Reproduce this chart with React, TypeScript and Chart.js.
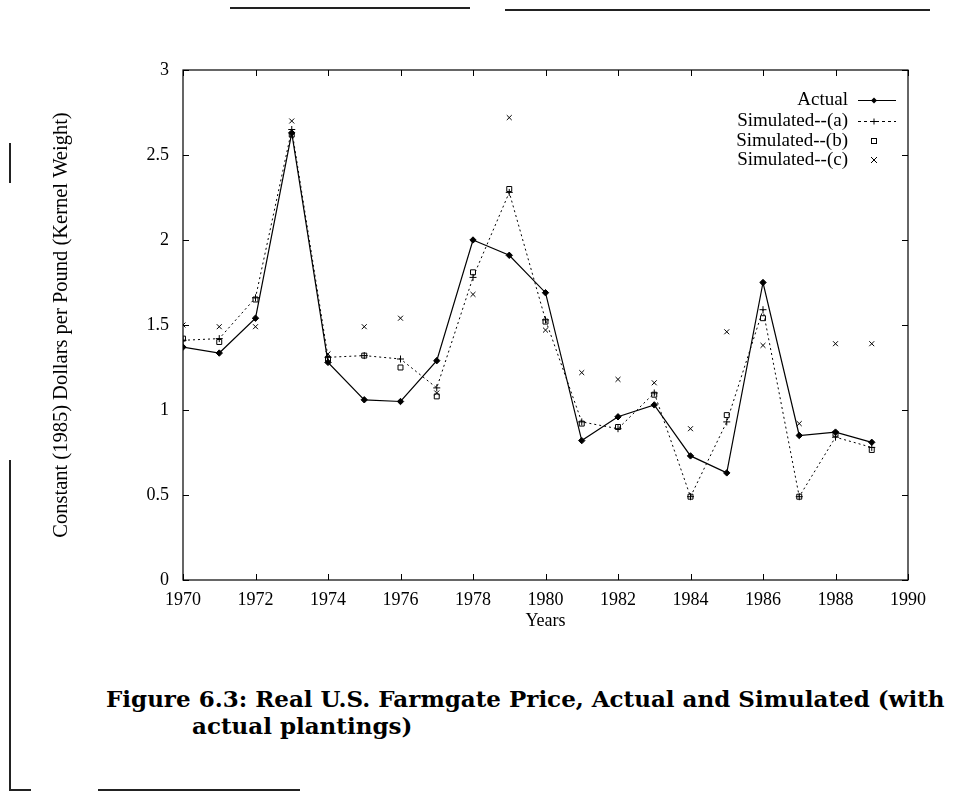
import React, { useEffect, useRef } from "react";
import { Chart, registerables } from "chart.js";

Chart.register(...registerables);

const years = [1970, 1971, 1972, 1973, 1974, 1975, 1976, 1977, 1978, 1979, 1980, 1981, 1982, 1983, 1984, 1985, 1986, 1987, 1988, 1989];
const actual = [1.37, 1.335, 1.54, 2.63, 1.28, 1.06, 1.05, 1.29, 2.0, 1.91, 1.69, 0.82, 0.96, 1.03, 0.73, 0.63, 1.75, 0.85, 0.87, 0.81];
const simA = [1.41, 1.42, 1.66, 2.65, 1.31, 1.32, 1.3, 1.13, 1.78, 2.28, 1.53, 0.93, 0.89, 1.1, 0.49, 0.93, 1.59, 0.49, 0.84, 0.78];
const simB = [1.42, 1.4, 1.65, 2.62, 1.3, 1.32, 1.25, 1.08, 1.81, 2.3, 1.52, 0.92, 0.9, 1.09, 0.49, 0.97, 1.54, 0.49, 0.86, 0.765];
const simC = [1.5, 1.49, 1.49, 2.7, 1.33, 1.49, 1.54, 1.1, 1.68, 2.72, 1.47, 1.22, 1.18, 1.16, 0.89, 1.46, 1.38, 0.92, 1.39, 1.39];

const legendLabels = ["Actual", "Simulated--(a)", "Simulated--(b)", "Simulated--(c)"];
const xTitle = "Years";
const yTitle = "Constant (1985) Dollars per Pound (Kernel Weight)";
const captionLine1 = "Figure 6.3: Real U.S. Farmgate Price, Actual and Simulated (with";
const captionLine2 = "actual plantings)";

const SERIF = "'Liberation Serif', 'Times New Roman', serif";

const toPoints = (vals: number[]) => years.map((y, i) => ({ x: y, y: vals[i] }));

const frameTicksPlugin = {
  id: "frameTicks",
  afterDraw(chart: any) {
    const { ctx, chartArea } = chart;
    const { left, right, top, bottom } = chartArea;
    const xs = chart.scales.x;
    const ys = chart.scales.y;
    ctx.save();
    ctx.strokeStyle = "#000";
    ctx.lineWidth = 1.2;
    ctx.strokeRect(left, top, right - left, bottom - top);
    ctx.lineWidth = 1;
    const t = 6;
    xs.ticks.forEach((tk: any) => {
      const px = Math.round(xs.getPixelForValue(tk.value)) + 0.5;
      ctx.beginPath();
      ctx.moveTo(px, bottom);
      ctx.lineTo(px, bottom - t);
      ctx.moveTo(px, top);
      ctx.lineTo(px, top + t);
      ctx.stroke();
    });
    ys.ticks.forEach((tk: any) => {
      const py = Math.round(ys.getPixelForValue(tk.value)) + 0.5;
      ctx.beginPath();
      ctx.moveTo(left, py);
      ctx.lineTo(left + t, py);
      ctx.moveTo(right, py);
      ctx.lineTo(right - t, py);
      ctx.stroke();
    });
    ctx.restore();
  },
};

const legendPlugin = {
  id: "customLegend",
  afterDraw(chart: any) {
    const { ctx } = chart;
    const textRight = 848;
    const symX = 874;
    const lineL = 858;
    const lineR = 896;
    const rows = [100, 121, 141, 160];
    ctx.save();
    ctx.font = `19px ${SERIF}`;
    ctx.fillStyle = "#000";
    ctx.textAlign = "right";
    ctx.textBaseline = "middle";
    legendLabels.forEach((lab, i) => ctx.fillText(lab, textRight, rows[i]));
    ctx.strokeStyle = "#000";
    ctx.lineWidth = 1;
    // Actual
    let y = rows[0] + 0.5;
    ctx.beginPath();
    ctx.moveTo(lineL, y);
    ctx.lineTo(lineR, y);
    ctx.stroke();
    ctx.beginPath();
    ctx.moveTo(symX, y - 3);
    ctx.lineTo(symX + 3, y);
    ctx.lineTo(symX, y + 3);
    ctx.lineTo(symX - 3, y);
    ctx.closePath();
    ctx.fill();
    // (a)
    y = rows[1] + 0.5;
    ctx.setLineDash([3, 3]);
    ctx.beginPath();
    ctx.moveTo(lineL, y);
    ctx.lineTo(lineR, y);
    ctx.stroke();
    ctx.setLineDash([]);
    ctx.beginPath();
    ctx.moveTo(symX - 3, y);
    ctx.lineTo(symX + 3, y);
    ctx.moveTo(symX, y - 3);
    ctx.lineTo(symX, y + 3);
    ctx.stroke();
    // (b)
    y = rows[2];
    ctx.strokeRect(symX - 2.5, y - 2.5, 5, 5);
    // (c)
    y = rows[3];
    ctx.beginPath();
    ctx.moveTo(symX - 3, y - 3);
    ctx.lineTo(symX + 3, y + 3);
    ctx.moveTo(symX + 3, y - 3);
    ctx.lineTo(symX - 3, y + 3);
    ctx.stroke();
    ctx.restore();
  },
};

export default function App() {
  const canvasRef = useRef<HTMLCanvasElement | null>(null);

  useEffect(() => {
    document.body.style.margin = "0";
    const canvas = canvasRef.current;
    if (!canvas) return;
    const chart = new Chart(canvas, {
      type: "line",
      data: {
        datasets: [
          {
            label: legendLabels[0],
            data: toPoints(actual),
            borderColor: "#000",
            backgroundColor: "#000",
            borderWidth: 1.2,
            pointStyle: "rectRot",
            pointRadius: 3.2,
            pointBorderWidth: 1,
            tension: 0,
          },
          {
            label: legendLabels[1],
            data: toPoints(simA),
            borderColor: "#000",
            backgroundColor: "#000",
            borderWidth: 1,
            borderDash: [2, 3],
            pointStyle: "cross",
            pointRadius: 3.5,
            pointBorderWidth: 1,
            tension: 0,
          },
          {
            label: legendLabels[2],
            data: toPoints(simB),
            borderColor: "#000",
            backgroundColor: "transparent",
            showLine: false,
            pointStyle: "rect",
            pointRadius: 3.5,
            pointBorderWidth: 1,
          },
          {
            label: legendLabels[3],
            data: toPoints(simC),
            borderColor: "#000",
            backgroundColor: "#000",
            showLine: false,
            pointStyle: "crossRot",
            pointRadius: 3.5,
            pointBorderWidth: 1,
          },
        ],
      },
      options: {
        responsive: false,
        animation: false,
        devicePixelRatio: 1,
        layout: { padding: { left: 0, top: 70, right: 50, bottom: 0 } },
        plugins: {
          legend: { display: false },
          tooltip: { enabled: false },
        },
        scales: {
          x: {
            type: "linear",
            min: 1970,
            max: 1990,
            grid: { display: false, drawTicks: false },
            border: { display: false },
            ticks: {
              stepSize: 2,
              autoSkip: false,
              maxRotation: 0,
              padding: 9,
              color: "#000",
              font: { family: SERIF, size: 18 },
              callback: (v: any) => String(v),
            },
            title: {
              display: true,
              text: xTitle,
              color: "#000",
              font: { family: SERIF, size: 18, lineHeight: 1.2 },
              padding: { top: 0, bottom: 8 },
            },
            afterFit: (s: any) => {
              s.height = 60;
            },
          },
          y: {
            type: "linear",
            min: 0,
            max: 3,
            grid: { display: false, drawTicks: false },
            border: { display: false },
            ticks: {
              stepSize: 0.5,
              padding: 14,
              color: "#000",
              font: { family: SERIF, size: 18 },
              callback: (v: any) => String(Number(v)),
            },
            title: {
              display: true,
              text: yTitle,
              color: "#000",
              font: { family: SERIF, size: 20.5, lineHeight: 1.2 },
              padding: { top: 49, bottom: 0 },
            },
            afterFit: (s: any) => {
              s.width = 183;
            },
          },
        },
      },
      plugins: [frameTicksPlugin, legendPlugin],
    });
    return () => chart.destroy();
  }, []);

  const line = (style: React.CSSProperties) => (
    <div style={{ position: "absolute", background: "#222", ...style }} />
  );

  return (
    <div style={{ position: "relative", width: 958, height: 795, background: "#fff", overflow: "hidden" }}>
      <canvas ref={canvasRef} width={958} height={640} style={{ position: "absolute", left: 0, top: 0 }} />
      <div
        style={{
          position: "absolute",
          left: 106,
          top: 685,
          fontFamily: "'DejaVu Serif', serif",
          fontWeight: "bold",
          fontSize: 23,
          whiteSpace: "nowrap",
          color: "#000",
          lineHeight: "27px",
        }}
      >
        <div>{captionLine1}</div>
        <div style={{ paddingLeft: 86 }}>{captionLine2}</div>
      </div>
      {line({ left: 230, top: 7, width: 240, height: 1.5 })}
      {line({ left: 505, top: 9, width: 425, height: 1.5 })}
      {line({ left: 9, top: 143, width: 1.5, height: 40 })}
      {line({ left: 9, top: 460, width: 1.5, height: 330 })}
      {line({ left: 9, top: 789, width: 22, height: 1.5 })}
      {line({ left: 98, top: 789, width: 202, height: 1.5 })}
    </div>
  );
}
